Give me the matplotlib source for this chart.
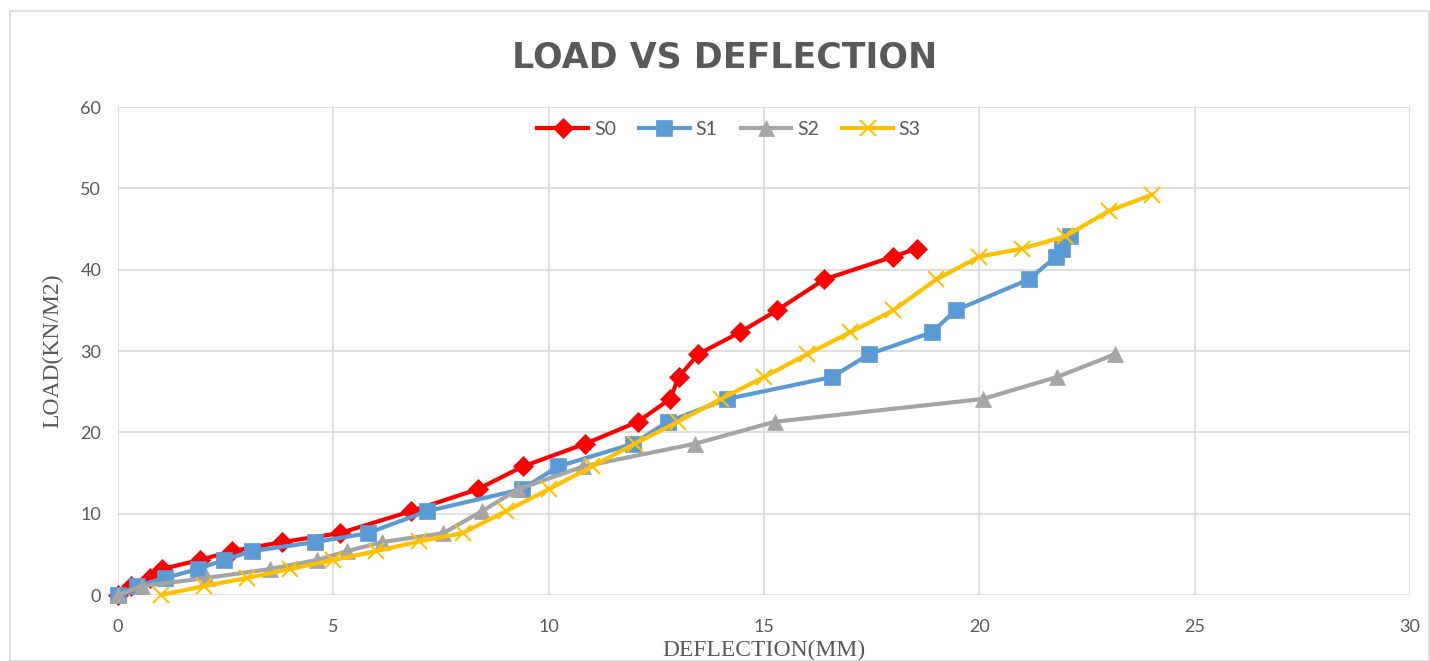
import matplotlib
matplotlib.use("Agg")
import matplotlib.pyplot as plt
from matplotlib.patches import Rectangle

# Load (kN/m2) vs deflection (mm) for each specimen
s0_defl = [0, 0.3, 0.74, 1.02, 1.9, 2.65, 3.8, 5.15, 6.8, 8.35, 9.4, 10.85,
           12.07, 12.82, 13.02, 13.47, 14.44, 15.3, 16.4, 18.0, 18.55]
s0_load = [0, 1.1, 2.1, 3.2, 4.3, 5.4, 6.5, 7.6, 10.3, 13.0, 15.8, 18.6,
           21.3, 24.1, 26.8, 29.6, 32.3, 35.0, 38.8, 41.6, 42.6]

s1_defl = [0, 0.44, 1.09, 1.86, 2.46, 3.11, 4.57, 5.8, 7.17, 9.38, 10.22, 11.96,
           12.77, 14.14, 16.58, 17.44, 18.9, 19.45, 21.15, 21.78, 21.92, 22.1]
s1_load = [0, 1.1, 2.1, 3.2, 4.3, 5.4, 6.5, 7.6, 10.3, 13.0, 15.8, 18.6,
           21.3, 24.1, 26.8, 29.6, 32.3, 35.0, 38.8, 41.6, 42.6, 44.1]

s2_defl = [0, 0.56, 2.07, 3.53, 4.62, 5.32, 6.13, 7.55, 8.45, 9.29, 10.8,
           13.4, 15.25, 20.08, 21.8, 23.15]
s2_load = [0, 1.1, 2.1, 3.2, 4.3, 5.4, 6.5, 7.6, 10.3, 13.0, 15.8,
           18.6, 21.3, 24.1, 26.8, 29.6]

s3_defl = [1, 2, 3, 4, 5, 6, 7, 8, 9, 10, 11, 12, 13, 14, 15, 16, 17, 18,
           19, 20, 21, 22, 23, 24]
s3_load = [0, 1.1, 2.1, 3.2, 4.3, 5.4, 6.6, 7.6, 10.3, 13.0, 15.8, 18.6,
           21.3, 24.1, 26.8, 29.6, 32.3, 35.0, 38.8, 41.6, 42.6, 44.1, 47.2, 49.2]

fig = plt.figure(figsize=(14.3, 6.61), dpi=100)

# chart frame
fig.patches.append(Rectangle((10 / 1430, 0), 1 - 11 / 1430, 1 - 11 / 661,
                             transform=fig.transFigure, fill=False,
                             edgecolor="#d9d9d9", linewidth=1.2))

ax = fig.add_axes([118 / 1430, 1 - 595 / 661, 1292 / 1430, 488 / 661])

series = [
    ("S0", s0_defl, s0_load, "#FF0000", "D", 10),
    ("S1", s1_defl, s1_load, "#5B9BD5", "s", 12),
    ("S2", s2_defl, s2_load, "#A5A5A5", "^", 11),
    ("S3", s3_defl, s3_load, "#FFC000", "x", 11),
]
for name, xs, ys, col, mk, ms in series:
    ax.plot(xs, ys, color=col, linewidth=3, marker=mk, markersize=ms,
            markeredgewidth=1.5 if mk == "x" else 0.5, markeredgecolor=col,
            label=name, clip_on=False)

ax.set_xlim(0, 30)
ax.set_ylim(0, 60)
ax.set_xticks(range(0, 31, 5))
ax.set_yticks(range(0, 61, 10))
ax.grid(True, color="#d9d9d9", linewidth=1.2)
ax.set_axisbelow(True)
for s in ax.spines.values():
    s.set_visible(False)
ax.tick_params(length=0, labelsize=13, labelcolor="#595959")
ax.tick_params(axis="x", pad=17)
ax.tick_params(axis="y", pad=12)
for lab in ax.get_xticklabels() + ax.get_yticklabels():
    lab.set_fontfamily("Lato")

ax.set_xlabel("DEFLECTION(MM)", fontfamily="Liberation Serif", fontsize=17,
              color="#595959", labelpad=4)
ax.set_ylabel("LOAD(KN/M2)", fontfamily="Liberation Serif", fontsize=17,
              color="#595959", labelpad=12)

fig.text(0.507, 1 - 58 / 661, "LOAD VS DEFLECTION", ha="center", va="center",
         fontsize=25, fontweight="bold", fontfamily="DejaVu Sans", color="#595959")

leg = ax.legend(loc="upper center", bbox_to_anchor=(0.473, 1.0), ncol=4,
                frameon=False, fontsize=14, handlelength=2.6, columnspacing=1.2,
                handletextpad=0.3, borderaxespad=0.3)
for t in leg.get_texts():
    t.set_color("#595959")
    t.set_fontfamily("Lato")

fig.savefig("out.png", dpi=100)
